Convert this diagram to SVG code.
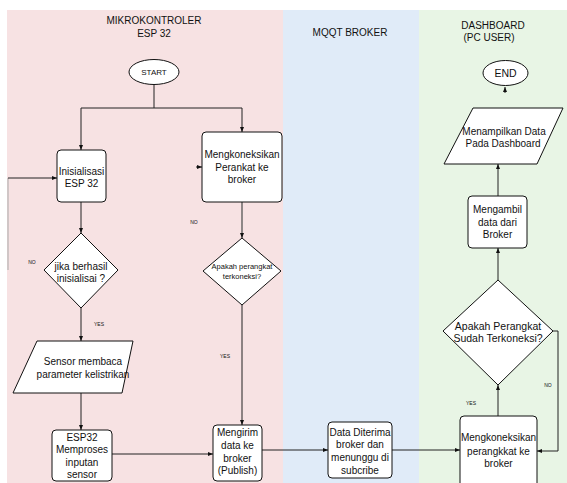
<svg xmlns="http://www.w3.org/2000/svg" width="567" height="483" viewBox="0 0 567 483">
<defs>
<style>
text{font-family:"Liberation Sans",Arial,sans-serif;fill:#111;text-anchor:middle}
.t{font-size:10px}
.h{font-size:10px}
.s{font-size:5px}
.d8{font-size:7.5px}
.box{fill:#fff;stroke:#111;stroke-width:1}
.c{fill:none;stroke:#222;stroke-width:1}
</style>
<marker id="a" viewBox="0 0 10 10" refX="10" refY="5" markerWidth="5" markerHeight="5" orient="auto" markerUnits="userSpaceOnUse">
<path d="M0,1 L10,5 L0,9 z" fill="#111"/>
</marker>
</defs>
<rect width="567" height="483" fill="#fff"/>
<g id="lanes">
<rect x="7" y="10" width="276" height="473" fill="#f7e2e3"/>
<rect x="283" y="10" width="136" height="473" fill="#e0ebf8"/>
<rect x="419" y="10" width="148" height="473" fill="#e8f5e5"/>
<text class="h" x="154" y="24">MIKROKONTROLER</text>
<text class="h" x="154" y="37">ESP 32</text>
<text class="h" x="350" y="36">MQQT BROKER</text>
<text class="h" x="493" y="29">DASHBOARD</text>
<text class="h" x="489" y="41">(PC USER)</text>
</g>
<g id="connectors">
<path class="c" d="M154,85 V108"/>
<path class="c" d="M81,108 H242"/>
<path class="c" d="M81,108 V150" marker-end="url(#a)"/>
<path class="c" d="M242,108 V132" marker-end="url(#a)"/>
<path class="c" d="M8,270 V178" style="stroke:#aaa"/>
<path class="c" d="M8,178 H57" marker-end="url(#a)"/>
<path class="c" d="M81,202 V233" marker-end="url(#a)"/>
<path class="c" d="M81,308 V341" marker-end="url(#a)"/>
<path class="c" d="M81,393 V430" marker-end="url(#a)"/>
<path class="c" d="M112,454 H213" marker-end="url(#a)"/>
<path class="c" d="M196,167 H202" marker-end="url(#a)"/>
<path class="c" d="M242,202 V238" marker-end="url(#a)" style="stroke:#555;stroke-width:1.3"/>
<path class="c" d="M242,305 V425" marker-end="url(#a)"/>
<path class="c" d="M262,450 H328" marker-end="url(#a)"/>
<path class="c" d="M392,450 H460" marker-end="url(#a)"/>
<path class="c" d="M498,416 V385" marker-end="url(#a)"/>
<path class="c" d="M553,331 H558 V451 H537" marker-end="url(#a)"/>
<path class="c" d="M498,280 V248" marker-end="url(#a)"/>
<path class="c" d="M498,196 V164" marker-end="url(#a)"/>
<path class="c" d="M505,93 V87" marker-end="url(#a)"/>
<text class="s" x="32" y="264">NO</text>
<text class="s" x="99" y="326">YES</text>
<text class="s" x="194" y="224">NO</text>
<text class="s" x="225" y="358">YES</text>
<text class="s" x="471" y="405">YES</text>
<text class="s" x="548" y="387">NO</text>
</g>
<g id="start">
<ellipse cx="154" cy="72" rx="25" ry="12.5" fill="#fff" stroke="#111"/>
<text x="154" y="75" style="font-size:8px">START</text>
</g>
<g id="init">
<rect class="box" x="57" y="150" width="49" height="52" rx="4"/>
<text class="t" x="81.5" y="175">Inisialisasi</text>
<text class="t" x="81.5" y="187">ESP 32</text>
</g>
<g id="cek-init">
<polygon class="box" points="81,233 118,270 81,308 44,270"/>
<text class="t" x="81" y="270">jika berhasil</text>
<text class="t" x="81" y="282">inisialisai ?</text>
</g>
<g id="sensor">
<polygon class="box" points="37,341 133,341 122,393 13,393"/>
<text class="t" x="83" y="365">Sensor membaca</text>
<text class="t" x="83" y="378">parameter kelistrikan</text>
</g>
<g id="proses">
<rect class="box" x="52" y="430" width="60" height="51" rx="4"/>
<text class="t" x="82" y="441">ESP32</text>
<text class="t" x="82" y="453">Memproses</text>
<text class="t" x="82" y="466">inputan</text>
<text class="t" x="82" y="478">sensor</text>
</g>
<g id="koneksi-esp">
<rect class="box" x="202" y="132" width="80" height="70" rx="4"/>
<text class="t" x="242" y="158">Mengkoneksikan</text>
<text class="t" x="242" y="171">Perankat ke</text>
<text class="t" x="242" y="183">broker</text>
</g>
<g id="cek-koneksi-esp">
<polygon class="box" points="242,238 281,271 242,305 203,271"/>
<text class="d8" x="242" y="269">Apakah perangkat</text>
<text class="d8" x="242" y="279">terkoneksi?</text>
</g>
<g id="kirim">
<rect class="box" x="213" y="425" width="49" height="56" rx="4"/>
<text class="t" x="237.5" y="436">Mengirim</text>
<text class="t" x="237.5" y="449">data  ke</text>
<text class="t" x="237.5" y="462">broker</text>
<text class="t" x="237.5" y="474">(Publish)</text>
</g>
<g id="terima">
<rect class="box" x="328" y="422" width="64" height="56" rx="4"/>
<text class="t" x="360" y="436">Data Diterima</text>
<text class="t" x="360" y="448">broker dan</text>
<text class="t" x="360" y="461">menunggu di</text>
<text class="t" x="360" y="474">subcribe</text>
</g>
<g id="koneksi-dash">
<rect class="box" x="460" y="416" width="77" height="72" rx="4"/>
<text class="t" x="498.5" y="441">Mengkoneksikan</text>
<text class="t" x="498.5" y="455">perangkkat ke</text>
<text class="t" x="498.5" y="467">broker</text>
</g>
<g id="cek-koneksi-dash">
<polygon class="box" points="498,280 553,331 498,385 443,331"/>
<text class="t" x="498" y="330" style="font-size:10.5px">Apakah Perangkat</text>
<text class="t" x="498" y="342" style="font-size:10.5px">Sudah Terkoneksi?</text>
</g>
<g id="ambil">
<rect class="box" x="468" y="196" width="59" height="52" rx="4"/>
<text class="t" x="497.5" y="213">Mengambil</text>
<text class="t" x="497.5" y="226">data dari</text>
<text class="t" x="497.5" y="238">Broker</text>
</g>
<g id="tampil">
<polygon class="box" points="473,108 563,108 537,164 444,164"/>
<text class="t" x="504" y="135">Menampilkan Data</text>
<text class="t" x="503" y="147">Pada Dashboard</text>
</g>
<g id="end">
<ellipse cx="505.5" cy="73" rx="22.5" ry="12.5" fill="#fff" stroke="#111"/>
<text x="505.5" y="77" style="font-size:10.5px">END</text>
</g>
</svg>
